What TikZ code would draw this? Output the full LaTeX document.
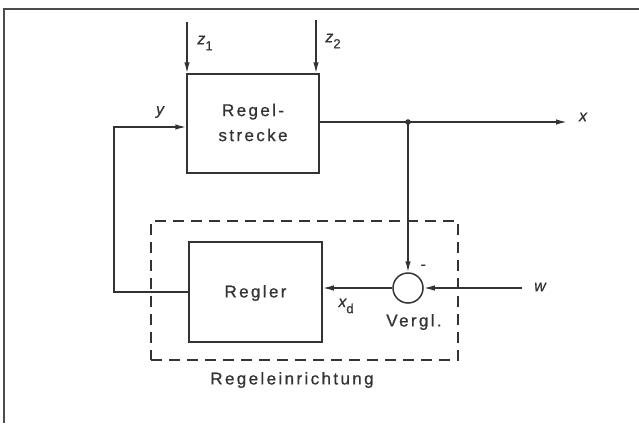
\documentclass[tikz,border=0pt]{standalone}
\usepackage{fontspec}
\setmainfont{Liberation Sans}
\newfontfamily\spaced[LetterSpace=14,FakeBold=0.8]{Liberation Sans}
\newfontfamily\varfont[FakeBold=0.6]{Liberation Sans}
\newcommand\subsz{\fontsize{13}{13}\selectfont\upshape}
\usetikzlibrary{arrows.meta}
\definecolor{ink}{gray}{0.2}
\definecolor{frame}{gray}{0.3}
\begin{document}
\begin{tikzpicture}[x=1pt,y=-1pt,
  line/.style={draw=ink,line width=1.5pt},
  arr/.style={line,-{Latex[length=11pt,width=5.5pt]}},
  blk/.style={draw=ink,line width=1.5pt,rectangle,inner sep=0pt},
  lbl/.style={text=ink,font=\spaced\fontsize{17}{25}\selectfont,inner sep=0pt,align=center},
  var/.style={text=ink,font=\varfont\fontsize{16}{17}\selectfont\itshape,inner sep=0pt}]
\useasboundingbox (0,0) rectangle (639,423);
% frame
\draw[frame,line width=2pt] (4,423) -- (4,9) -- (639,9);
% blocks
\node[blk,minimum width=132pt,minimum height=99pt] (strecke) at (253,123.5) {};
\node[lbl] (sttext) at (253,122.5) {Regel-\\strecke};
\node[blk,minimum width=133pt,minimum height=100pt] (regler) at (255.5,292) {};
\node[lbl] (regtext) at (255.5,293) {Regler};
\node[draw=ink,line width=1.5pt,circle,minimum size=30pt,inner sep=0pt] (vg) at (408,288) {};
\node[draw=ink,line width=1.2pt,dash pattern=on 11pt off 7pt,minimum width=307pt,minimum height=139pt,inner sep=0pt] (re) at (304.5,290.5) {};
% coordinates
\coordinate (z1) at (187,22);
\coordinate (z2) at (316,20);
\coordinate (j) at (408,122);
\coordinate (xe) at (567,122);
\coordinate (we) at (522,288);
\coordinate (c1) at (114,292);
\coordinate (c2) at (114,127);
% connectors
\draw[arr] (z1) -- (z1 |- strecke.north);
\draw[arr] (z2) -- (z2 |- strecke.north);
\draw[line] (strecke.east |- j) -- (j);
\draw[arr] (j) -- (xe);
\fill[ink] (j) circle (2.8pt);
\draw[arr] (j) -- (vg.north);
\draw[arr] (we) -- (vg.east);
\draw[arr] (vg.west) -- (vg.west -| regler.east);
\draw[arr] (regler.west |- c1) -- (c1) -- (c2) -- (c2 -| strecke.west);
% labels
\node[var] (lz1) at (205,43) {z\raisebox{-6pt}{\subsz 1}};
\node[var] (lz2) at (333,41) {z\raisebox{-6pt}{\subsz 2}};
\node[var] (ly) at (160,112) {y};
\node[var] (lx) at (583,117) {x};
\node[var] (lw) at (540,287) {w};
\node[var] (lxd) at (346,306) {x\raisebox{-6pt}{\subsz d}};
\node[var] (lminus) at (423,267) {-};
\node[lbl] (lvg) at (414,322) {Vergl.};
\node[lbl] (lre) at (292,380) {Regeleinrichtung};
\end{tikzpicture}
\end{document}
